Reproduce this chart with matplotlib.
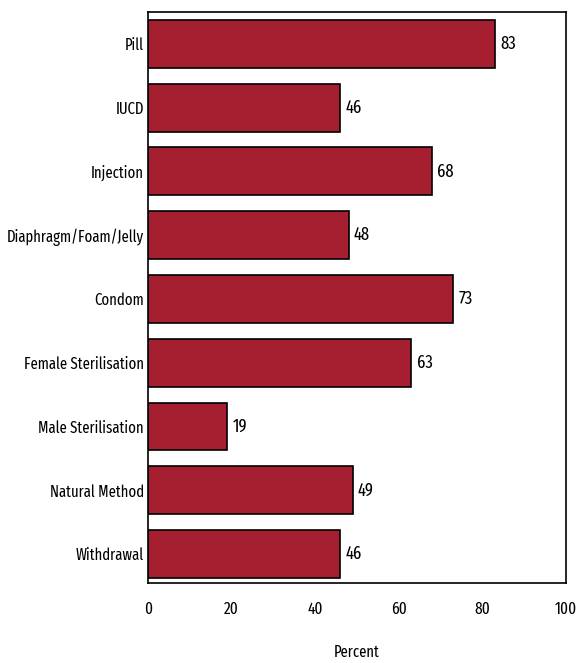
import matplotlib
matplotlib.use('Agg')
import matplotlib.pyplot as plt
from matplotlib import font_manager

# contraceptive methods and percent
methods = ['Pill', 'IUCD', 'Injection', 'Diaphragm/Foam/Jelly', 'Condom',
           'Female Sterilisation', 'Male Sterilisation', 'Natural Method', 'Withdrawal']
percent = [83, 46, 68, 48, 73, 63, 19, 49, 46]
xticks = [0, 20, 40, 60, 80, 100]

# pick the narrowest regular face that is installed
rank = {'ultra-condensed': 0, 'extra-condensed': 1, 'condensed': 2, 'semi-condensed': 3}
best = None
for f in font_manager.fontManager.ttflist:
    if f.style != 'normal' or f.weight not in (400, 'normal', 'regular'):
        continue
    r = rank.get(f.stretch)
    nm = f.fname.lower()
    if 'extracondensed' in nm or 'extra-condensed' in nm:
        r = 1
    elif r is None and ('condensed' in nm or 'narrow' in nm):
        r = 2
    if r is None:
        continue
    if best is None or (r, f.fname) < (best[0], best[1].fname):
        best = (r, f)

if best is not None:
    font = dict(fname=best[1].fname)
    scale = 1.0 if best[0] <= 1 else 0.92
else:
    font = dict(family='Liberation Sans')
    scale = 0.83
fp_lab = font_manager.FontProperties(size=11.5 * scale, **font)
fp_tick = font_manager.FontProperties(size=12 * scale, **font)
fp = font_manager.FontProperties(size=13 * scale, **font)

fig = plt.figure(figsize=(5.76, 6.63), dpi=100)
ax = fig.add_axes([0.257, 0.121, 0.726, 0.861])

pos = list(range(len(methods)))
ax.barh(pos, percent, height=0.75, color='#a51f30', edgecolor='black', linewidth=1.2)

for p, v in zip(pos, percent):
    ax.text(v + 1.2, p, str(v), va='center', ha='left', fontproperties=fp)

ax.set_xlim(0, 100)
ax.set_ylim(8.45, -0.5)
ax.set_yticks(pos)
ax.set_yticklabels(methods, fontproperties=fp_lab)
ax.set_xticks(xticks)
ax.set_xticklabels([str(t) for t in xticks], fontproperties=fp_tick)
ax.tick_params(axis='both', length=0)
ax.tick_params(axis='y', pad=3)
ax.tick_params(axis='x', pad=13)
ax.set_xlabel('Percent', fontproperties=fp_lab, labelpad=20)
for s in ax.spines.values():
    s.set_linewidth(1.2)

fig.savefig('out.png', dpi=100)
